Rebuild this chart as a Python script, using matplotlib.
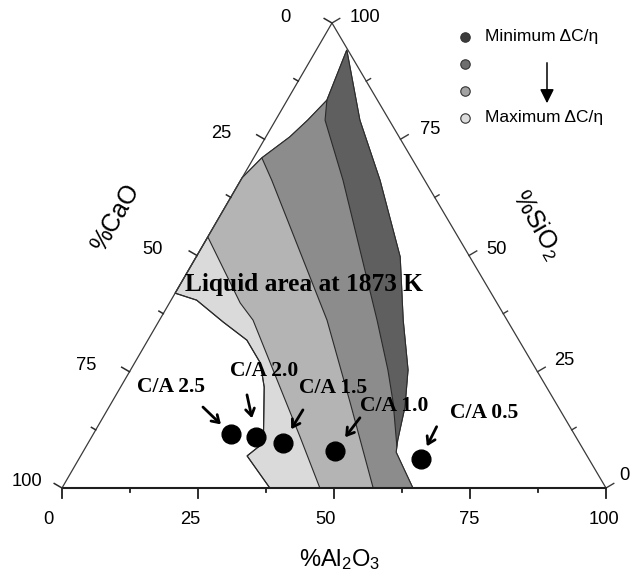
import matplotlib
matplotlib.use("Agg")
import matplotlib.pyplot as plt
from matplotlib.patches import Polygon, FancyArrowPatch
from matplotlib.lines import Line2D
from matplotlib.transforms import offset_copy

plt.rcParams['font.family'] = ['Liberation Sans', 'DejaVu Sans']
plt.rcParams['mathtext.default'] = 'regular'

# ---- slag compositions (wt%) ----
ca_ratio = [2.5, 2.0, 1.5, 1.0, 0.5]
slag_cao = [63.1, 58.8, 54.5, 45.8, 30.9]
slag_al2o3 = [25.3, 30.2, 35.8, 46.2, 62.8]
slag_sio2 = [11.6, 11.0, 9.7, 8.0, 6.3]

# ---- liquid area at 1873 K, outline as (Al2O3, SiO2); CaO is the balance ----
liquid_al2o3 = [5.6, 15.5, 25.6, 37.5, 44.8, 51.0, 54.4, 56.6, 57.6, 61.0, 64.5,
                38.2, 30.6, 32.2, 26.4, 23.1, 18.2, 11.9, 4.7, 0.0, 0.0, 1.5,
                4.4, 5.9, 7.3]
liquid_sio2 = [94.2, 79.1, 66.2, 49.7, 36.1, 25.4, 17.4, 10.3, 7.7, 3.9, 0.0,
               0.0, 6.9, 9.7, 21.7, 26.9, 31.8, 35.7, 40.4, 41.9, 66.7, 71.0,
               75.5, 79.1, 83.4]

# ---- iso-lines of dC/eta separating the four levels ----
iso1_al2o3 = [0.0, 13.0, 17.2, 29.3, 38.3, 47.4]
iso1_sio2 = [54.0, 39.8, 36.1, 21.7, 11.0, 0.0]
iso2_al2o3 = [1.5, 5.7, 30.8, 43.9, 57.2]
iso2_sio2 = [71.0, 66.2, 36.1, 18.3, 0.0]
iso3_al2o3 = [7.3, 9.1, 18.8, 40.0, 47.3, 51.8, 57.2]
iso3_sio2 = [83.4, 79.1, 66.2, 36.1, 25.4, 18.3, 8.8]

tick_values = [0, 25, 50, 75, 100]
level_colors = ['#dadada', '#b4b4b4', '#8c8c8c', '#5f5f5f']
legend_colors = ['#3c3c3c', '#6e6e6e', '#a3a3a3', '#dcdcdc']

W, H = 631, 585
K = 0.4963          # horizontal shift of the apex per unit SiO2
PX, PY = 5.44, 4.65  # pixels per composition unit


def to_xy(al, si):
    return [a + K * s for a, s in zip(al, si)], list(si)


def P(x, y):
    return x / W, 1 - y / H


fig = plt.figure(figsize=(W / 100, H / 100), dpi=100)
ax = fig.add_axes([62 / W, (H - 488) / H, 544 / W, 465 / H])
ax.set_xlim(0, 100)
ax.set_ylim(0, 100)
ax.axis('off')

# ---- liquid area and its levels ----
ox, oy = to_xy(liquid_al2o3, liquid_sio2)
outer = Polygon(list(zip(ox, oy)), closed=True, facecolor=level_colors[0],
                edgecolor='#2a2a2a', lw=0.8, zorder=1)
ax.add_patch(outer)

isos = [(iso1_al2o3, iso1_sio2), (iso2_al2o3, iso2_sio2), (iso3_al2o3, iso3_sio2)]
for i, (al, si) in enumerate(isos):
    x, y = to_xy(al, si)
    if y[-1] <= 0.01:
        poly = [(x[0], 200)] + list(zip(x, y)) + [(x[-1], -20), (200, -20), (200, 200)]
    else:
        poly = [(x[0], 200)] + list(zip(x, y)) + [(200, y[-1]), (200, 200)]
    band = Polygon(poly, closed=True, facecolor=level_colors[i + 1],
                   edgecolor='none', zorder=1.2)
    ax.add_patch(band)
    band.set_clip_path(outer)
    ln, = ax.plot(x, y, color='#2a2a2a', lw=0.8, zorder=1.5)
    ln.set_clip_path(outer)

outline = Polygon(list(zip(ox, oy)), closed=True, facecolor='none',
                  edgecolor='#2a2a2a', lw=0.8, zorder=1.6)
ax.add_patch(outline)

# ---- triangle frame ----
ax.plot([0, 100], [0, 0], color='#1e1e1e', lw=1.5, zorder=3, clip_on=False,
        solid_capstyle='butt')
ax.plot([0, 100 * K, 100], [0, 100, 0], color='#3a3a3a', lw=0.9, zorder=3,
        clip_on=False)

# ---- ticks ----
n_left = (-0.865, 0.502)
n_right = (0.861, 0.508)
for k in range(9):
    v = 12.5 * k
    major = (k % 2 == 0)
    # bottom (Al2O3)
    L = 10 if major else 4
    ax.plot([v, v], [0, -L / PY], color='#1e1e1e', lw=1.3, clip_on=False, zorder=3)
    # left (CaO = v)
    s = 100 - v
    x0, y0 = K * s, s
    L = 9 if major else 5
    ax.plot([x0, x0 + n_left[0] * L / PX], [y0, y0 + n_left[1] * L / PY],
            color='#2a2a2a', lw=1.1, clip_on=False, zorder=3)
    # right (SiO2 = v)
    x0, y0 = (100 - v) + K * v, v
    ax.plot([x0, x0 + n_right[0] * L / PX], [y0, y0 + n_right[1] * L / PY],
            color='#3a3a3a', lw=1.0, clip_on=False, zorder=3)

tick_fs = 13.2
bottom_nudge = [-14, -8, -8, -1, -2]
left_nudge = [-41, -33, -34, -33, -20]
right_nudge = [(13, 12), (17, 11), (17, 6), (20, 10), (18, 5)]
for i, v in enumerate(tick_values):
    tr = offset_copy(ax.transData, fig=fig, x=bottom_nudge[i], y=-31, units='dots')
    ax.text(v, 0, str(v), transform=tr, ha='center', va='center',
            fontsize=tick_fs, clip_on=False)
    s = 100 - v
    tr = offset_copy(ax.transData, fig=fig, x=left_nudge[i], y=6, units='dots')
    ax.text(K * s, s, str(v), transform=tr, ha='right', va='center',
            fontsize=tick_fs, clip_on=False)
    dx, dy = right_nudge[i]
    tr = offset_copy(ax.transData, fig=fig, x=dx, y=dy, units='dots')
    ax.text((100 - v) + K * v, v, str(v), transform=tr, ha='left', va='center',
            fontsize=tick_fs, clip_on=False)

# ---- axis titles ----
fig.text(*P(115, 218), '%CaO', rotation=60, ha='center', va='center', fontsize=18)
fig.text(*P(537, 225), '%SiO$_2$', rotation=-60, ha='center', va='center', fontsize=18)
fig.text(*P(340, 560), '%Al$_2$O$_3$', ha='center', va='center', fontsize=17)

# ---- liquid area caption ----
serif = ['Liberation Serif', 'DejaVu Serif']
fig.text(*P(304, 285), 'Liquid area at 1873 K', ha='center', va='center',
         fontsize=18.3, fontweight='bold', family=serif, zorder=5)

# ---- slag points with C/A labels ----
sx, sy = to_xy(slag_al2o3, slag_sio2)
ax.plot(sx, sy, 'o', color='black', ms=13.5, zorder=6, clip_on=False)

label_off = [(-60, 47), (8, 66), (50, 55), (59, 45), (63, 46)]
arrow_tail = [(-28, 27), (-9, 42), (20, 33), (25, 33), (16, 32)]
arrow_gap = [10, 13.7, 11.5, 12.2, 10]
for i, r in enumerate(ca_ratio):
    ax.annotate(f'C/A {r:.1f}', xy=(sx[i], sy[i]), xytext=label_off[i],
                textcoords='offset pixels', ha='center', va='center',
                fontsize=15.5, fontweight='bold', family=serif, zorder=7)
    ax.annotate('', xy=(sx[i], sy[i]), xytext=arrow_tail[i],
                textcoords='offset pixels',
                arrowprops=dict(arrowstyle='->,head_length=0.5,head_width=0.32',
                                lw=2.0, color='black', shrinkA=0,
                                shrinkB=arrow_gap[i]), zorder=7)

# ---- legend ----
for y, c in zip([37, 64, 91, 118], legend_colors):
    fig.add_artist(Line2D([P(465, y)[0]], [P(465, y)[1]], transform=fig.transFigure,
                          marker='o', ms=6.8, mfc=c, mec='#333333', mew=0.8,
                          linestyle='none'))
fig.text(*P(485, 37), 'Minimum ΔC/η', ha='left', va='center', fontsize=12.5)
fig.text(*P(485, 118), 'Maximum ΔC/η', ha='left', va='center', fontsize=12.5)
fig.add_artist(FancyArrowPatch(
    P(547, 60), P(547, 106), transform=fig.transFigure,
    arrowstyle='-|>,head_length=0.7,head_width=0.35', lw=1.1, color='black',
    mutation_scale=12))

fig.savefig('out.png', dpi=100)
